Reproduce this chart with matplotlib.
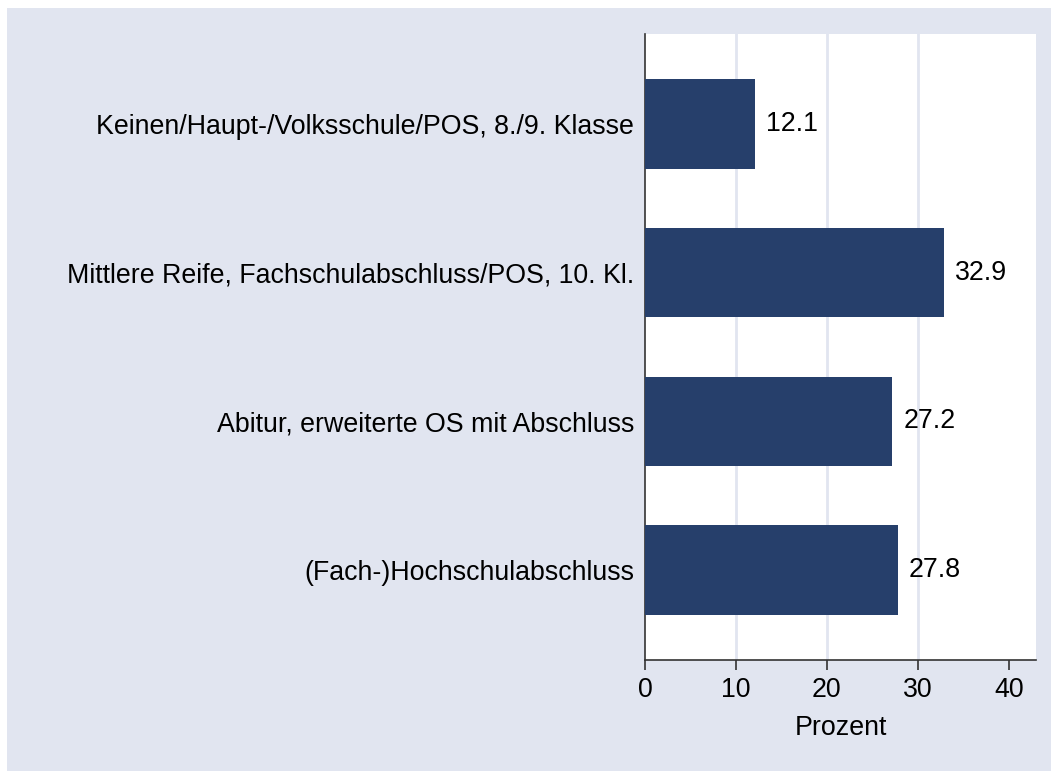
import matplotlib
matplotlib.use("Agg")
import matplotlib.pyplot as plt
from matplotlib.patches import Rectangle

# =====================================================
# Data
# =====================================================

categories = [
    "Keinen/Haupt-/Volksschule/POS, 8./9. Klasse",
    "Mittlere Reife, Fachschulabschluss/POS, 10. Kl.",
    "Abitur, erweiterte OS mit Abschluss",
    "(Fach-)Hochschulabschluss",
]
values = [12.1, 32.9, 27.2, 27.8]
xticks = [0, 10, 20, 30, 40]
gridticks = [10, 20, 30]

# =====================================================
# Style
# =====================================================

plt.rcParams["font.family"] = ["Liberation Sans", "DejaVu Sans"]
FS = 19.3
bg = "#E1E5F0"
bar_color = "#263F6B"
W, H = 1051, 771

fig = plt.figure(figsize=(W / 100, H / 100), dpi=100)
fig.patch.set_facecolor("white")
fig.patches.append(Rectangle((7 / W, -0.01), 1.02, (H - 8) / H + 0.01,
                             transform=fig.transFigure, facecolor=bg,
                             edgecolor="none", zorder=-10))

ax = fig.add_axes([645 / W, (H - 660) / H, (1036 - 645) / W, (660 - 34) / H])
ax.set_facecolor("white")

pos = list(range(len(categories)))
ax.barh(pos, values, height=0.6, color=bar_color, zorder=3)

for p, v in zip(pos, values):
    ax.annotate(f"{v:.1f}", (v, p), xytext=(11, 0), textcoords="offset pixels",
                va="center", ha="left", fontsize=FS, color="black")

ax.set_ylim(3.605, -0.605)
ax.set_xlim(0, 43)

for g in gridticks:
    ax.axvline(g, color=bg, lw=2, zorder=1)

ax.set_yticks(pos)
ax.set_yticklabels(categories, fontsize=FS)
ax.tick_params(axis="y", length=0, pad=8)

ax.set_xticks(xticks)
ax.set_xticklabels([str(t) for t in xticks], fontsize=FS)
ax.tick_params(axis="x", length=7.2, width=1.2, color="#333333", pad=5)
ax.set_xlabel("Prozent", fontsize=FS, labelpad=9)

for s in ["top", "right"]:
    ax.spines[s].set_visible(False)
for s in ["left", "bottom"]:
    ax.spines[s].set_color("#333333")
    ax.spines[s].set_linewidth(1.2)

plt.savefig("out.png", dpi=100)
